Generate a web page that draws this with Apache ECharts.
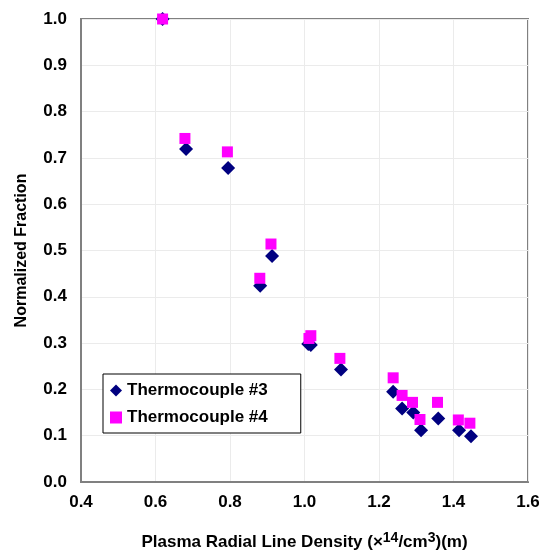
<!DOCTYPE html>
<html>
<head>
<meta charset="utf-8">
<script src="https://cdn.jsdelivr.net/npm/echarts@6/dist/echarts.min.js"></script>
<style>
  html, body { margin: 0; padding: 0; background: #fff; }
  #chart { width: 546px; height: 552px; }
</style>
</head>
<body>
<div id="chart"></div>
<script>
// Thermocouple #3 (diamonds)
var tc3X = [0.619, 0.682, 0.795, 0.881, 0.913, 1.010, 1.017, 1.098, 1.238, 1.262, 1.292, 1.313, 1.359, 1.415, 1.447];
var tc3Y = [1.000, 0.719, 0.678, 0.424, 0.488, 0.298, 0.296, 0.243, 0.195, 0.159, 0.150, 0.112, 0.137, 0.112, 0.099];
// Thermocouple #4 (squares)
var tc4X = [0.619, 0.679, 0.793, 0.880, 0.910, 1.012, 1.017, 1.095, 1.238, 1.262, 1.290, 1.310, 1.357, 1.413, 1.444];
var tc4Y = [1.000, 0.742, 0.713, 0.440, 0.514, 0.310, 0.316, 0.267, 0.225, 0.187, 0.172, 0.135, 0.172, 0.134, 0.127];

var seriesNames = ["Thermocouple #3", "Thermocouple #4"];

function pairs(xs, ys) {
    var data = [];
    xs.map(function (x, i) {
        data.push([x, ys[i]]);
    });
    return data;
}

var chartDom = document.getElementById("chart");
var myChart = echarts.init(chartDom, null, { renderer: 'canvas' });

var font = 'Liberation Sans, Arial, sans-serif';

var option = {
    animation: false,
    backgroundColor: '#fff',
    grid: {
        left: 81,
        right: 18,
        top: 19,
        bottom: 70,
        outerBoundsMode: 'none',
        containLabel: false,
        show: true,
        borderColor: '#808080',
        borderWidth: 2,
        backgroundColor: '#fff'
    },
    legend: {
        orient: 'vertical',
        left: 103,
        top: 374,
        itemWidth: 12,
        itemHeight: 12,
        itemGap: 10,
        padding: [8, 33, 7, 7],
        borderColor: '#000',
        borderWidth: 1,
        backgroundColor: '#fff',
        data: [
            { name: seriesNames[0], icon: 'diamond' },
            { name: seriesNames[1], icon: 'rect' }
        ],
        textStyle: {
            fontFamily: font,
            fontWeight: 'bold',
            fontSize: 17,
            color: '#000'
        }
    },
    xAxis: {
        type: 'value',
        min: 0.4,
        max: 1.6,
        interval: 0.2,
        name: '{n|Plasma Radial Line Density (}{n|\u00d7}{s|14}{n|/cm}{s|3}{n|)(m)}',
        nameLocation: 'middle',
        nameGap: 49,
        nameTextStyle: {
            rich: {
                n: { fontFamily: font, fontWeight: 'bold', fontSize: 17, color: '#000', verticalAlign: 'bottom', lineHeight: 20 },
                s: { fontFamily: font, fontWeight: 'bold', fontSize: 14, color: '#000', verticalAlign: 'top', lineHeight: 20, padding: [0, 0, 6, 0] }
            }
        },
        axisLine: { show: true, lineStyle: { color: '#808080', width: 2 } },
        axisTick: { show: false },
        splitLine: { show: true, lineStyle: { color: '#ebebeb', width: 1 } },
        axisLabel: {
            margin: 12,
            fontFamily: font,
            fontWeight: 'bold',
            fontSize: 17,
            color: '#000',
            formatter: function (v) { return v.toFixed(1); }
        }
    },
    yAxis: {
        type: 'value',
        min: 0,
        max: 1,
        interval: 0.1,
        name: 'Normalized Fraction',
        nameLocation: 'middle',
        nameGap: 51,
        nameRotate: 90,
        nameTextStyle: {
            fontFamily: font,
            fontWeight: 'bold',
            fontSize: 16,
            color: '#000'
        },
        axisLine: { show: true, lineStyle: { color: '#808080', width: 2 } },
        axisTick: { show: false },
        splitLine: { show: true, lineStyle: { color: '#ebebeb', width: 1 } },
        axisLabel: {
            margin: 14,
            fontFamily: font,
            fontWeight: 'bold',
            fontSize: 17,
            color: '#000',
            formatter: function (v) { return v.toFixed(1); }
        }
    },
    series: [
        {
            name: seriesNames[0],
            type: 'scatter',
            symbol: 'diamond',
            symbolSize: 14,
            itemStyle: { color: '#000080', opacity: 1 },
            data: pairs(tc3X, tc3Y),
            z: 2
        },
        {
            name: seriesNames[1],
            type: 'scatter',
            symbol: 'rect',
            symbolSize: 11,
            itemStyle: { color: '#ff00ff', opacity: 1 },
            data: pairs(tc4X, tc4Y),
            z: 3
        }
    ]
};

option && myChart.setOption(option);
</script>
</body>
</html>
